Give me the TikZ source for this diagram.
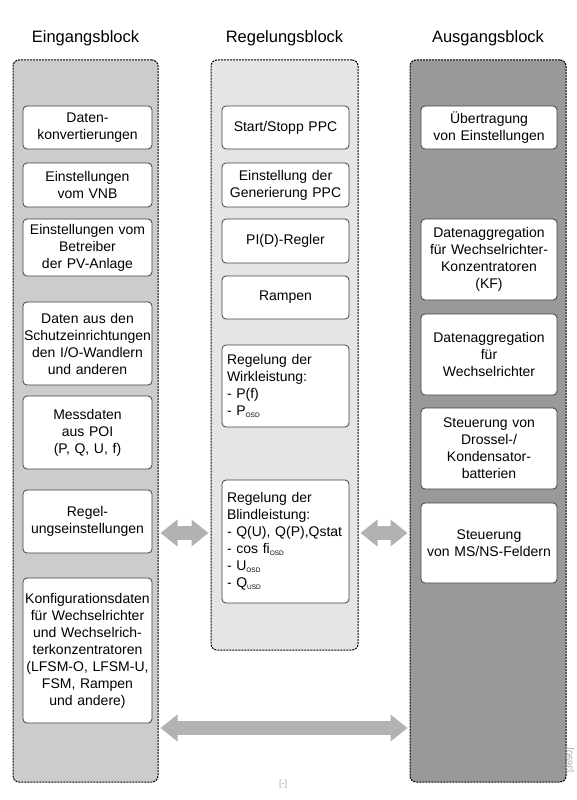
\documentclass[tikz,border=0pt]{standalone}
\usepackage{fontspec}
\setmainfont{Liberation Sans}
\usetikzlibrary{arrows.meta}
\newcommand{\ssub}[1]{\raisebox{-0.3ex}{\fontsize{6.5}{7}\selectfont #1}}

\begin{document}
\begin{tikzpicture}[x=1pt,y=-1pt,
    blockBox/.style={draw=black,dash pattern=on 2pt off 1pt,line width=1pt,rounded corners=6pt,inner sep=0pt},
    itemBox/.style={draw=black!75,fill=white,line width=0.8pt,rounded corners=4pt,align=center,inner xsep=1pt,inner ysep=2pt,font=\fontsize{14}{17}\selectfont},
    leftCol/.style={itemBox,minimum width=129pt,text width=127pt},
    midCol/.style={itemBox,minimum width=127pt,text width=125pt},
    rightCol/.style={itemBox,minimum width=136pt,text width=134pt},
    listBox/.style={itemBox,align=left,minimum width=127pt,inner xsep=5pt,text width=117pt},
    bigArrow/.style={line width=14pt,draw=black!30,shorten <=2pt,shorten >=2pt,{Triangle[length=17pt,width=26pt]}-{Triangle[length=17pt,width=26pt]}},
    titleText/.style={font=\fontsize{16.5}{19}\selectfont,anchor=base},
    noteText/.style={text=black!35,font=\fontsize{9}{10}\selectfont},
]
\useasboundingbox (0,0) rectangle (576,800);

% drei Bloecke
\node[titleText] (tIN) at (85.5,43) {Eingangsblock};
\node[titleText] (tCTRL) at (284.5,43) {Regelungsblock};
\node[titleText] (tOUT) at (488,43) {Ausgangsblock};

\node[blockBox,fill=black!20,minimum width=145pt,minimum height=722pt] (IN) at (85.5,421) {};
\node[blockBox,fill=black!10,minimum width=147pt,minimum height=590pt] (CTRL) at (284.5,355) {};
\node[blockBox,fill=black!40,minimum width=156pt,minimum height=722pt] (OUT) at (488,421) {};

% Eingangsblock
\node[leftCol,minimum height=43pt] (in1) at (87.5,127.5) {Daten-\\konvertierungen};
\node[leftCol,minimum height=44pt] (in2) at (87.5,185) {Einstellungen\\vom VNB};
\node[leftCol,minimum height=57pt] (in3) at (87.5,247.5) {Einstellungen vom\\Betreiber\\der PV-Anlage};
\node[leftCol,minimum height=83pt] (in4) at (87.5,343.5) {Daten aus den\\Schutzeinrichtungen\\den I/O-Wandlern\\und anderen};
\node[leftCol,minimum height=73pt] (in5) at (87.5,432.5) {Messdaten\\aus POI\\(P, Q, U, f)};
\node[leftCol,minimum height=63pt] (in6) at (87.5,521.5) {Regel-\\ungseinstellungen};
\node[leftCol,minimum height=145pt] (in7) at (87.5,650.5) {Konfigurationsdaten\\f\"ur Wechselrichter\\und Wechselrich-\\terkonzentratoren\\(LFSM-O, LFSM-U,\\FSM, Rampen\\und andere)};

% Regelungsblock
\node[midCol,minimum height=43pt] (ct1) at (285.5,127.5) {Start/Stopp PPC};
\node[midCol,minimum height=44pt] (ct2) at (285.5,185) {Einstellung der\\Generierung PPC};
\node[midCol,minimum height=44pt] (ct3) at (285.5,241) {PI(D)-Regler};
\node[midCol,minimum height=43pt] (ct4) at (285.5,297.5) {Rampen};
\node[listBox,minimum height=82pt] (ct5) at (285.5,386) {Regelung der\\Wirkleistung:\\- P(f)\\- P\ssub{OSD}};
\node[listBox,minimum height=123pt] (ct6) at (285.5,541.5) {Regelung der\\Blindleistung:\\\mbox{- Q(U), Q(P),Qstat}\\- cos fi\ssub{OSD}\\- U\ssub{OSD}\\- Q\ssub{USD}};

% Ausgangsblock
\node[rightCol,minimum height=43pt] (out1) at (489,127.5) {\"Ubertragung\\von Einstellungen};
\node[rightCol,minimum height=81pt] (out2) at (489,259.5) {Datenaggregation\\f\"ur Wechselrichter-\\Konzentratoren\\(KF)};
\node[rightCol,minimum height=81pt] (out3) at (489,354.5) {Datenaggregation\\f\"ur\\Wechselrichter};
\node[rightCol,minimum height=81pt] (out4) at (489,448.5) {Steuerung von\\Drossel-/\\Kondensator-\\batterien};
\node[rightCol,minimum height=80pt] (out5) at (489,543) {Steuerung\\von MS/NS-Feldern};

% Datenfluss
\coordinate (levelA) at (0,533);
\coordinate (levelB) at (0,728);
\draw[bigArrow] (IN.east |- levelA) -- (CTRL.west |- levelA);
\draw[bigArrow] (CTRL.east |- levelA) -- (OUT.west |- levelA);
\draw[bigArrow] (IN.east |- levelB) -- (OUT.west |- levelB);

\node[noteText] (noteA) at (283,784) {[-]};
\node[noteText,rotate=90] (noteB) at (570,760) {[3690]};
\end{tikzpicture}
\end{document}
